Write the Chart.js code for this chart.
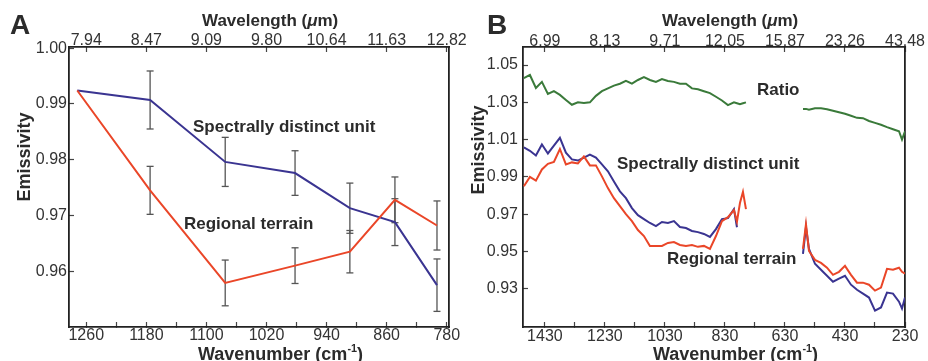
<!DOCTYPE html>
<html>
<head>
<meta charset="utf-8">
<script src="https://cdn.jsdelivr.net/npm/chart.js@4.4.0/dist/chart.umd.min.js"></script>
<style>
  html, body { margin: 0; padding: 0; background: #fff; }
  #wrap { position: relative; width: 928px; height: 361px; overflow: hidden;
          font-family: "Liberation Sans", Arial, sans-serif; color: #2b2b2b; }
  canvas { position: absolute; left: 0; top: 0; }
  .lbl { position: absolute; white-space: nowrap; font-weight: bold; line-height: 1; font-size: 17px; }
  .panel { font-size: 28px; }
  .xt { font-size: 18px; }
  .yt { font-size: 18px; width: 120px; line-height: 20px; text-align: center; transform: rotate(-90deg); }
  sup { font-size: 0.6em; vertical-align: 0.7em; line-height: 0; }
</style>
</head>
<body>
<div id="wrap">
  <canvas id="chartA" width="928" height="361"></canvas>
  <canvas id="chartB" width="928" height="361"></canvas>

  <div class="lbl panel" style="left:10px; top:11px;">A</div>
  <div class="lbl panel" style="left:487px; top:11px;">B</div>

  <div class="lbl" style="left:202px; top:12px;">Wavelength (<i>μ</i>m)</div>
  <div class="lbl" style="left:662px; top:12px;">Wavelength (<i>μ</i>m)</div>
  <div class="lbl xt" style="left:198px; top:345px;">Wavenumber (cm<sup>-1</sup>)</div>
  <div class="lbl xt" style="left:653px; top:345px;">Wavenumber (cm<sup>-1</sup>)</div>
  <div class="lbl yt" style="left:-36px; top:147px;">Emissivity</div>
  <div class="lbl yt" style="left:418px; top:140px;">Emissivity</div>

  <div class="lbl" style="left:193px; top:118px;">Spectrally distinct unit</div>
  <div class="lbl" style="left:184px; top:215px;">Regional terrain</div>
  <div class="lbl" style="left:757px; top:81px;">Ratio</div>
  <div class="lbl" style="left:617px; top:155px;">Spectrally distinct unit</div>
  <div class="lbl" style="left:667px; top:250px;">Regional terrain</div>
</div>

<script>
// ---- panel A: band emissivities (wavenumber, cm-1) ----
const wnA = [1272, 1175, 1075, 982, 909, 849, 793];
const distinctA    = [0.9924, 0.9907, 0.9796, 0.9776, 0.9713, 0.9688, 0.9575];
const distinctErrA = [0, 0.0052, 0.0044, 0.0040, 0.0045, 0.0042, 0.0047];
const regionalA    = [0.9924, 0.9745, 0.9579, 0.9610, 0.9635, 0.9728, 0.9682];
const regionalErrA = [0, 0.0043, 0.0041, 0.0032, 0.0038, 0.0041, 0.0044];

const xTicksA  = [1260, 1220, 1180, 1140, 1100, 1060, 1020, 980, 940, 900, 860, 820, 780];
const xLabelsA = ['1260', '', '1180', '', '1100', '', '1020', '', '940', '', '860', '', '780'];
const topTicksA  = [1260, 1180, 1100, 1020, 940, 860, 780];
const topLabelsA = ['7.94', '8.47', '9.09', '9.80', '10.64', '11.63', '12.82'];
const yTicksA = [0.96, 0.97, 0.98, 0.99, 1.00];

// ---- panel B: spectra, two segments either side of the gap ----
const wnB1 = [1500, 1480, 1460, 1440, 1420, 1400, 1380, 1360, 1340, 1320, 1300, 1280, 1260, 1240,
              1220, 1200, 1180, 1160, 1140, 1120, 1100, 1080, 1060, 1040, 1020, 1000, 980, 960,
              940, 920, 900, 880, 860, 840, 820, 800, 790, 780, 770, 760];
const ratioB1 = [1.043, 1.0447, 1.0377, 1.041, 1.0345, 1.036, 1.034, 1.0313, 1.0287, 1.030,
                 1.0297, 1.030, 1.0335, 1.036, 1.0375, 1.039, 1.040, 1.0415, 1.040, 1.042,
                 1.0435, 1.042, 1.041, 1.0425, 1.0415, 1.041, 1.040, 1.040, 1.0375, 1.037,
                 1.036, 1.035, 1.033, 1.031, 1.0285, 1.030, 1.0295, 1.029, 1.0295, 1.030];
const distinctB1 = [1.0058, 1.004, 1.0015, 1.0074, 1.0026, 1.0068, 1.011, 1.003, 0.9994, 0.9988,
                    1.0004, 1.002, 1.0004, 0.9967, 0.993, 0.9876, 0.9823, 0.9786, 0.9733, 0.9695,
                    0.9674, 0.9653, 0.9636, 0.9658, 0.9653, 0.9663, 0.9631, 0.9626, 0.961, 0.9604,
                    0.9594, 0.9578, 0.962, 0.9674, 0.9679, 0.9727, 0.963, null, null, null];
const regionalB1 = [0.985, 0.990, 0.988, 0.994, 0.997, 0.998, 1.005, 0.9967, 0.9978, 0.9972,
                    1.001, 0.9962, 0.9962, 0.9903, 0.984, 0.9786, 0.9743, 0.970, 0.9663, 0.9615,
                    0.9583, 0.953, 0.953, 0.953, 0.9546, 0.9551, 0.9535, 0.953, 0.9535, 0.9525,
                    0.953, 0.9514, 0.9583, 0.9663, 0.9684, 0.9722, 0.966, 0.976, 0.982, 0.9727];

const wnB2 = [570, 560, 550, 530, 510, 490, 470, 450, 430, 410, 390, 370, 350, 330, 310, 290, 270, 250, 240, 230];
const ratioB2 = [1.0265, 1.0265, 1.026, 1.0268, 1.0268, 1.0263, 1.0255, 1.0247, 1.0239, 1.0228,
                 1.0217, 1.0215, 1.020, 1.019, 1.018, 1.0167, 1.0156, 1.0145, 1.010, 1.0145];
const distinctB2 = [0.9487, 0.9631, 0.9514, 0.9434, 0.9402, 0.937, 0.9338, 0.9354, 0.937, 0.9322,
                    0.9295, 0.9274, 0.9253, 0.9183, 0.920, 0.928, 0.9274, 0.9231, 0.9194, 0.9253];
const regionalB2 = [0.9514, 0.9647, 0.9503, 0.9455, 0.9439, 0.9413, 0.9375, 0.9391, 0.9423, 0.9375,
                    0.9333, 0.9333, 0.9322, 0.929, 0.9306, 0.9407, 0.9402, 0.9413, 0.9391, 0.9381];

const xTicksB  = [1430, 1330, 1230, 1130, 1030, 930, 830, 730, 630, 530, 430, 330, 230];
const xLabelsB = ['1430', '', '1230', '', '1030', '', '830', '', '630', '', '430', '', '230'];
const topTicksB  = [1430, 1230, 1030, 830, 630, 430, 230];
const topLabelsB = ['6.99', '8.13', '9.71', '12.05', '15.87', '23.26', '43.48'];
const yTicksB = [0.93, 0.95, 0.97, 0.99, 1.01, 1.03, 1.05];

const FONT = '"Liberation Sans", Arial, sans-serif';
const BLUE = 'rgb(58, 52, 145)';
const RED = 'rgb(234, 70, 40)';
const GREEN = 'rgb(58, 122, 58)';
const ERR = '#555';

Chart.defaults.font.family = FONT;

function pts(xs, ys) {
  return xs.map((x, i) => ({ x: x, y: ys[i] }));
}

// vertical bars split by null points so each bar is its own segment
function errPts(xs, ys, es) {
  const out = [];
  xs.forEach((x, i) => {
    if (es[i] > 0) {
      out.push({ x: x, y: ys[i] - es[i] }, { x: x, y: ys[i] + es[i] }, { x: x, y: null });
    }
  });
  return out;
}

function line(data, color) {
  return { data: data, borderColor: color, borderWidth: 2, pointRadius: 0, tension: 0, spanGaps: false };
}

function errSet(data) {
  return { data: data, borderColor: ERR, borderWidth: 1.3, pointStyle: 'line', pointRadius: 3.5,
           pointBorderWidth: 1.3, pointBorderColor: ERR, spanGaps: false };
}

function makeScales(o) {
  const tickFont = { family: FONT, size: 16 };
  const border = { color: '#222', width: 1.8 };
  const grid = { drawOnChartArea: false, tickLength: -5, tickColor: '#444', tickWidth: 1.2 };
  return {
    x: {
      type: 'linear', position: 'bottom', reverse: true, min: o.xMin, max: o.xMax,
      afterBuildTicks: a => { a.ticks = o.xTicks.map(v => ({ value: v })); },
      afterFit: a => { a.height = 34; },
      ticks: { autoSkip: false, maxRotation: 0, padding: o.padBottom, color: '#333', font: tickFont,
               callback: (v, i) => o.xLabels[i] },
      grid: grid, border: border
    },
    x2: {
      type: 'linear', position: 'top', reverse: true, min: o.xMin, max: o.xMax,
      afterBuildTicks: a => { a.ticks = o.topTicks.map(v => ({ value: v })); },
      afterFit: a => { a.height = 47; },
      ticks: { autoSkip: false, maxRotation: 0, padding: o.padTop, color: '#333', font: tickFont,
               callback: (v, i) => o.topLabels[i] },
      grid: grid, border: border
    },
    y: {
      type: 'linear', position: 'left', min: o.yMin, max: o.yMax,
      afterBuildTicks: a => { a.ticks = o.yTicks.map(v => ({ value: v })); },
      afterFit: a => { a.width = o.yWidth; },
      ticks: { padding: o.padLeft, color: '#333', font: tickFont, callback: v => v.toFixed(2) },
      grid: grid, border: border
    },
    y2: {
      type: 'linear', position: 'right', min: 0, max: 1,
      afterFit: a => { a.width = 0; },
      ticks: { display: false },
      grid: { drawOnChartArea: false, drawTicks: false },
      border: border
    }
  };
}

const common = {
  responsive: false,
  animation: false,
  plugins: { legend: { display: false }, tooltip: { enabled: false } }
};

new Chart(document.getElementById('chartA'), {
  type: 'line',
  data: {
    datasets: [
      line(pts(wnA, regionalA), RED),
      line(pts(wnA, distinctA), BLUE),
      errSet(errPts(wnA, regionalA, regionalErrA)),
      errSet(errPts(wnA, distinctA, distinctErrA))
    ]
  },
  options: Object.assign({}, common, {
    layout: { padding: { left: 0, right: 479, top: 0, bottom: 0 } },
    scales: makeScales({
      xMin: 777, xMax: 1283, xTicks: xTicksA, xLabels: xLabelsA,
      topTicks: topTicksA, topLabels: topLabelsA,
      yMin: 0.95, yMax: 1.0002, yTicks: yTicksA, yWidth: 69,
      padBottom: 4, padTop: 2, padLeft: 7
    })
  })
});

new Chart(document.getElementById('chartB'), {
  type: 'line',
  data: {
    datasets: [
      line(pts(wnB1, regionalB1), RED),
      line(pts(wnB2, regionalB2), RED),
      line(pts(wnB1, distinctB1), BLUE),
      line(pts(wnB2, distinctB2), BLUE),
      line(pts(wnB1, ratioB1), GREEN),
      line(pts(wnB2, ratioB2), GREEN)
    ]
  },
  options: Object.assign({}, common, {
    layout: { padding: { left: 464, right: 23, top: 0, bottom: 0 } },
    scales: makeScales({
      xMin: 230, xMax: 1503, xTicks: xTicksB, xLabels: xLabelsB,
      topTicks: topTicksB, topLabels: topLabelsB,
      yMin: 0.9095, yMax: 1.0597, yTicks: yTicksB, yWidth: 59,
      padBottom: 5, padTop: 1, padLeft: 10
    })
  })
});
</script>
</body>
</html>
